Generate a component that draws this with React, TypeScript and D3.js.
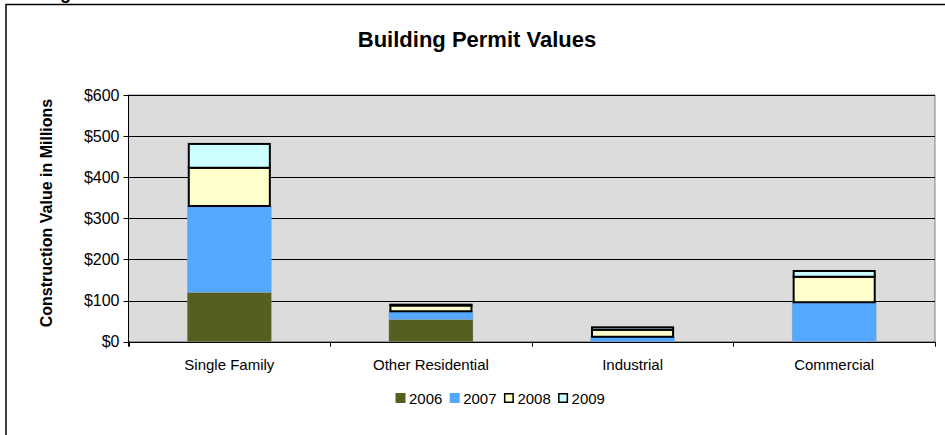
import React from "react";
import * as d3 from "d3";

const categories = ["Single Family", "Other Residential", "Industrial", "Commercial"];
const seriesNames = ["2006", "2007", "2008", "2009"];
const values2006 = [120, 54, 0, 0];
const values2007 = [210, 20, 12, 96];
const values2008 = [93, 14, 17, 62];
const values2009 = [58, 2, 6, 14];
const yTicks = [0, 100, 200, 300, 400, 500, 600];
const colors = ["#556020", "#55A8FF", "#FFFFCC", "#CCFFFF"];
const bordered = [false, false, true, true];

const W = 945;
const H = 435;
const left = 128.5;
const right = 935;
const top = 95;
const bottom = 341.7;
const font = "Arial, 'Liberation Sans', sans-serif";

export default function App() {
  const rows = categories.map((c, i) => ({
    cat: c,
    "2006": values2006[i],
    "2007": values2007[i],
    "2008": values2008[i],
    "2009": values2009[i],
  }));
  const stack = d3.stack<any>().keys(seriesNames);
  const layers = stack(rows);
  const x = d3
    .scaleBand<string>()
    .domain(categories)
    .range([left, right])
    .paddingInner(0.583)
    .paddingOuter(0.2915);
  const y = d3.scaleLinear().domain([0, 600]).range([bottom, top]);
  const step = x.step();

  return (
    <svg
      width={W}
      height={H}
      style={{ position: "absolute", left: 0, top: 0, background: "#fff" }}
    >
      <rect x={0} y={0} width={W} height={H} fill="#fff" />
      {/* cut-off header glyph */}
      <text x={60} y={-1} fontFamily={font} fontWeight="bold" fontSize={18} fill="#000">g</text>
      {/* chart area border */}
      <rect x={6} y={4.5} width={W + 10} height={H + 10} fill="none" stroke="#000" strokeWidth={1.5} />
      <text
        x={477}
        y={47}
        textAnchor="middle"
        fontFamily={font}
        fontWeight="bold"
        fontSize={22}
      >
        Building Permit Values
      </text>
      {/* plot area */}
      <rect x={left} y={top} width={right - left} height={bottom - top} fill="#DCDCDC" stroke="#808080" strokeWidth={1} />
      {yTicks.map((t) => (
        <g key={t}>
          {t > 0 && (
            <line x1={left} x2={right} y1={Math.round(y(t)) + 0.5} y2={Math.round(y(t)) + 0.5} stroke="#000" strokeWidth={1} />
          )}
          <line x1={left - 5} x2={left} y1={Math.round(y(t)) + 0.5} y2={Math.round(y(t)) + 0.5} stroke="#000" strokeWidth={1} />
          <text
            x={119.5}
            y={y(t) + 5.5}
            textAnchor="end"
            fontFamily={font}
            fontSize={16}
          >
            {"$" + t}
          </text>
        </g>
      ))}
      {layers.map((layer, li) => (
        <g key={seriesNames[li]}>
          {layer.map((d, i) => {
            const x0 = x(categories[i]) as number;
            const bw = x.bandwidth();
            const y0 = y(d[0]);
            const y1 = y(d[1]);
            if (d[1] - d[0] <= 0) return null;
            if (bordered[li]) {
              return (
                <rect
                  key={i}
                  x={x0 + 1.5}
                  y={y1}
                  width={bw - 3}
                  height={Math.max(0.5, y0 - y1)}
                  fill={colors[li]}
                  stroke="#000"
                  strokeWidth={2}
                />
              );
            }
            return (
              <rect
                key={i}
                x={x0}
                y={y1}
                width={bw}
                height={y0 - y1}
                fill={colors[li]}
                stroke="#A0A0A0"
                strokeWidth={0.5}
                strokeOpacity={0.6}
              />
            );
          })}
        </g>
      ))}
      {/* axes */}
      <line x1={left} x2={left} y1={top} y2={bottom + 5} stroke="#000" strokeWidth={1} />
      <line x1={left} x2={right} y1={Math.round(bottom) + 0.5} y2={Math.round(bottom) + 0.5} stroke="#000" strokeWidth={1.2} />
      {[0, 1, 2, 3, 4].map((k) => (
        <line
          key={k}
          x1={Math.round(left + k * step) + 0.5}
          x2={Math.round(left + k * step) + 0.5}
          y1={bottom}
          y2={bottom + 5}
          stroke="#000"
        />
      ))}
      {categories.map((c) => (
        <text
          key={c}
          x={(x(c) as number) + x.bandwidth() / 2}
          y={370}
          textAnchor="middle"
          fontFamily={font}
          fontSize={15}
        >
          {c}
        </text>
      ))}
      <text
        transform={`translate(52,${213}) rotate(-90)`}
        textAnchor="middle"
        fontFamily={font}
        fontWeight="bold"
        fontSize={16}
      >
        Construction Value in Millions
      </text>
      {/* legend */}
      {seriesNames.map((s, i) => {
        const lx = 395.5 + i * 54.2;
        return (
          <g key={s}>
            <rect
              x={lx + 0.75}
              y={393.75}
              width={8.5}
              height={8.5}
              fill={colors[i]}
              stroke={bordered[i] ? "#000" : colors[i]}
              strokeWidth={1.5}
            />
            <text x={lx + 13.5} y={403.5} fontFamily={font} fontSize={15}>
              {s}
            </text>
          </g>
        );
      })}
    </svg>
  );
}
